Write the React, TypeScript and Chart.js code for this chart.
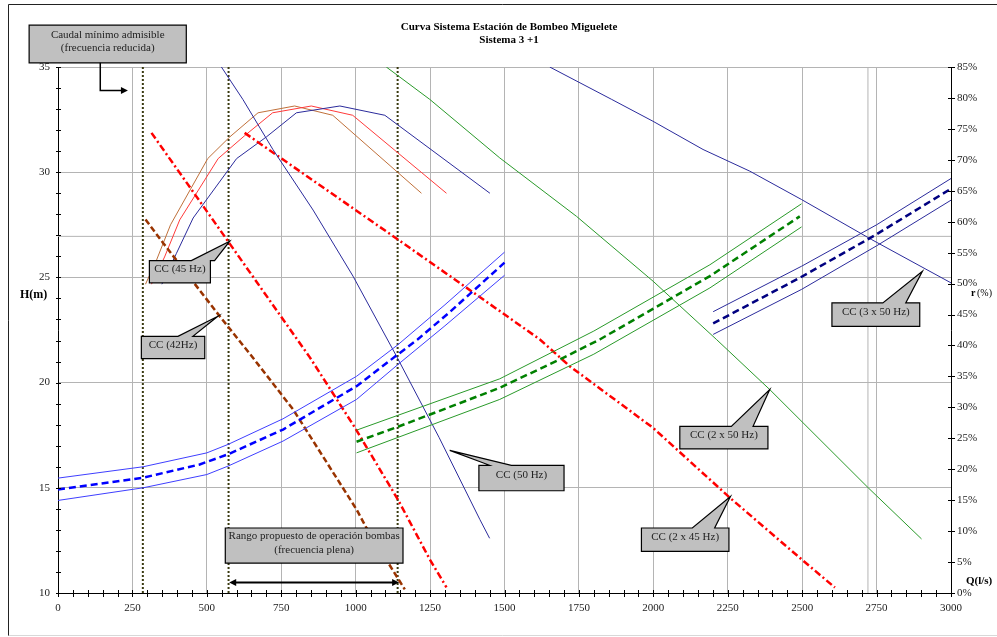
import React, { useEffect, useRef } from 'react';
import { Chart, registerables } from 'chart.js';
Chart.register(...registerables);

// ---------- DATA ----------
// Pump head curves H(m) vs Q(l/s)
const pump50Q = [549, 621, 722, 857, 991, 1137, 1280, 1417, 1450];
const pump50H = [35, 33.46, 31.08, 28.2, 25.06, 21.26, 17.4, 13.5, 12.6];
const pump45Q = [314, 571, 846, 997, 1142, 1249, 1305];
const pump45H = [31.87, 26.72, 21.2, 17.87, 14.44, 11.6, 10.27];
const pump42Q = [294, 353, 543, 655, 790, 1003, 1036, 1165];
const pump42H = [27.75, 26.64, 23.16, 21.18, 18.72, 13.97, 13.1, 10.17];
const pump2x50Q = [1103, 1249, 1484, 1742, 1999, 2212, 2391, 2722, 2901];
const pump2x50H = [35, 33.46, 30.68, 27.9, 24.82, 22.05, 19.67, 15.0, 12.57];
const pump2x45Q = [627, 1142, 1484, 1619, 1719, 1999, 2257, 2498, 2610];
const pump2x45H = [31.87, 26.8, 23.4, 22.05, 20.78, 17.85, 14.53, 11.6, 10.26];
const pump3x50Q = [1652, 1860, 1999, 2167, 2324, 2498, 2733, 3000];
const pump3x50H = [35, 33.46, 32.42, 31.08, 30.05, 28.7, 26.8, 24.74];

// System curves (1, 2 and 3 pumps) with upper / lower bands
const sys1Q = [0, 286, 476, 571, 756, 1003, 1142, 1208, 1316, 1500];
const sys1H = [14.92, 15.48, 16.11, 16.59, 17.77, 19.83, 21.34, 22.05, 23.35, 25.7];
const sys1BandQ = [0, 286, 500, 571, 756, 1003, 1142, 1300, 1500];
const sys1UpH = [15.46, 16.0, 16.66, 17.06, 18.28, 20.3, 21.8, 23.7, 26.2];
const sys1LoH = [14.4, 15.0, 15.63, 16.03, 17.22, 19.2, 20.86, 22.7, 25.1];
const sys2Q = [1003, 1142, 1484, 1697, 1820, 2190, 2492];
const sys2H = [17.19, 17.9, 19.75, 21.18, 22.05, 25.06, 27.9];
const sys2BandQ = [1003, 1484, 1800, 2190, 2498];
const sys2UpH = [17.74, 20.18, 22.45, 25.6, 28.5];
const sys2LoH = [16.66, 19.2, 21.35, 24.5, 27.4];
const sys3Q = [2201, 2492, 2744, 2996];
const sys3H = [22.81, 24.98, 27.0, 29.18];
const sys3BandQ = [2201, 2498, 2750, 3000];
const sys3UpH = [23.37, 25.53, 27.5, 29.7];
const sys3LoH = [22.29, 24.43, 26.5, 28.67];

// Efficiency curves (%), right axis
const eff50Q = [349, 398, 454, 600, 700, 801, 947, 1098, 1451];
const eff50E = [49.9, 54.9, 60.6, 70.2, 73.7, 77.6, 78.7, 77.2, 64.6];
const eff45Q = [314, 358, 409, 538, 627, 721, 851, 990, 1305];
const eff45E = [49.9, 54.3, 60.3, 70.2, 73.9, 77.6, 78.7, 77.2, 64.6];
const eff42Q = [294, 331, 378, 503, 577, 672, 795, 923, 1221];
const eff42E = [49.9, 53.8, 59.5, 70.2, 73.7, 77.6, 78.7, 77.2, 64.6];

// Reference vertical lines (Q, l/s)
const refLinesQ = [285, 573, 1141];
// Extra grid lines present in the reference
const extraGridQ = [2721];
const extraGridH = [26.95];

// Axis ranges / ticks
const xMin = 0, xMax = 3000, xMajor = 250, xMinor = 50;
const hMin = 10, hMax = 35, hMajor = 5, hMinor = 1;
const eMin = 0, eMax = 85, eStep = 5;

const titleLines = ['Curva Sistema Estación de Bombeo Miguelete', 'Sistema 3 +1'];

// Callout labels (texts)
const calloutTexts = [
  ['CC (45 Hz)'],
  ['CC (42Hz)'],
  ['CC (50 Hz)'],
  ['CC (2 x 45 Hz)'],
  ['CC (2 x 50 Hz)'],
  ['CC (3 x 50 Hz)'],
];
const noteCaudal = ['Caudal mínimo admisible', '(frecuencia reducida)'];
const noteRango = ['Rango propuesto de operación bombas', '(frecuencia plena)'];

// Layout of callouts in data units: box [q0,h0,q1,h1], pointer base [qa,qb], tip [q,h]
const calloutLayout = [
  { box: [307, 25.8, 512, 24.74], base: [448, 526], tip: [577, 26.72] },
  { box: [280, 22.2, 493, 21.14], base: [403, 453], tip: [537, 23.15] },
  { box: [1414, 16.07, 1700, 14.86], base: [1450, 1523], tip: [1316, 16.78] },
  { box: [1960, 13.09, 2254, 11.98], base: [2131, 2206], tip: [2259, 14.59] },
  { box: [2089, 17.92, 2385, 16.85], base: [2262, 2335], tip: [2391, 19.67] },
  { box: [2600, 23.79, 2895, 22.67], base: [2771, 2848], tip: [2904, 25.29] },
];
const caudalLayout = { box: [-97, 36.99, 431, 35.2], arrow: [[142, 35.2], [142, 33.88], [235, 33.88]] };
const rangoLayout = { box: [562, 13.09, 1159, 11.42], arrowH: 10.5, arrowQ: [575, 1146] };

const SERIF = '"Liberation Serif", "DejaVu Serif", serif';

function pts(qs: number[], hs: number[]) {
  return qs.map((q, i) => ({ x: q, y: hs[i] }));
}

function ds(label: string, data: any[], color: string, width: number, dash: number[] = [], axis = 'y') {
  return {
    type: 'line',
    label,
    data,
    borderColor: color,
    backgroundColor: color,
    borderWidth: width,
    borderDash: dash,
    pointRadius: 0,
    fill: false,
    tension: 0,
    yAxisID: axis,
  };
}

const decorPlugin = {
  id: 'decor',
  beforeDraw(chart: any) {
    const { ctx, width, height } = chart;
    ctx.save();
    ctx.fillStyle = '#ffffff';
    ctx.fillRect(0, 0, width, height);
    ctx.restore();
  },
  afterDraw(chart: any) {
    const { ctx, chartArea } = chart;
    const xs = chart.scales.x, ys = chart.scales.y, es = chart.scales.y2;
    const X = (v: number) => xs.getPixelForValue(v);
    const Y = (v: number) => ys.getPixelForValue(v);
    ctx.save();
    // outer border
    ctx.strokeStyle = '#222';
    ctx.lineWidth = 1;
    ctx.beginPath();
    ctx.moveTo(8.5, 636); ctx.lineTo(8.5, 4.5); ctx.lineTo(997, 4.5);
    ctx.stroke();
    ctx.strokeStyle = '#d8d8d8';
    ctx.beginPath();
    ctx.moveTo(8.5, 635.5); ctx.lineTo(997, 635.5);
    ctx.stroke();

    // minor/major tick marks crossing the axes
    ctx.strokeStyle = '#000';
    ctx.lineWidth = 1;
    ctx.beginPath();
    for (let q = xMin; q <= xMax; q += xMinor) {
      const px = Math.round(X(q)) + 0.5;
      ctx.moveTo(px, chartArea.bottom - 3); ctx.lineTo(px, chartArea.bottom + 4);
    }
    for (let h = hMin; h <= hMax; h += hMinor) {
      const py = Math.round(Y(h)) + 0.5;
      ctx.moveTo(chartArea.left - 2, py); ctx.lineTo(chartArea.left + 3, py);
    }
    for (let e = eMin; e <= eMax; e += eStep) {
      const py = Math.round(es.getPixelForValue(e)) + 0.5;
      ctx.moveTo(chartArea.right - 3, py); ctx.lineTo(chartArea.right + 4, py);
    }
    ctx.stroke();

    // title
    ctx.fillStyle = '#000';
    ctx.font = 'bold 11px ' + SERIF;
    ctx.textAlign = 'center';
    ctx.textBaseline = 'middle';
    ctx.fillText(titleLines[0], 509, 27);
    ctx.fillText(titleLines[1], 509, 40);

    // axis titles
    ctx.font = 'bold 12px ' + SERIF;
    ctx.textAlign = 'left';
    ctx.fillText('H(m)', 20, 295);
    ctx.font = 'bold 11px ' + SERIF;
    ctx.fillText('Q(l/s)', 966, 581);
    ctx.font = 'bold 10px ' + SERIF;
    ctx.fillText('r', 971, 293);
    ctx.font = '10px ' + SERIF;
    ctx.fillText('(%)', 977, 293);

    // callouts
    const drawBoxText = (lines: string[], x0: number, y0: number, x1: number, y1: number) => {
      ctx.fillStyle = '#222';
      ctx.font = '11px ' + SERIF;
      ctx.textAlign = 'center';
      ctx.textBaseline = 'middle';
      const lh = 13.5;
      const cy = (y0 + y1) / 2 - 2.5 - ((lines.length - 1) * lh) / 2;
      lines.forEach((t, i) => ctx.fillText(t, (x0 + x1) / 2, cy + i * lh));
    };
    const boxPath = (x0: number, y0: number, x1: number, y1: number, ptr?: any) => {
      ctx.beginPath();
      ctx.moveTo(x0, y0);
      if (ptr) {
        ctx.lineTo(ptr.a, y0);
        ctx.lineTo(ptr.tx, ptr.ty);
        ctx.lineTo(ptr.b, y0);
      }
      ctx.lineTo(x1, y0);
      ctx.lineTo(x1, y1);
      ctx.lineTo(x0, y1);
      ctx.closePath();
      ctx.fillStyle = '#c0c0c0';
      ctx.fill();
      ctx.strokeStyle = '#000';
      ctx.lineWidth = 1.2;
      ctx.stroke();
    };
    calloutLayout.forEach((c, i) => {
      const x0 = X(c.box[0]), y0 = Y(c.box[1]), x1 = X(c.box[2]), y1 = Y(c.box[3]);
      boxPath(x0, y0, x1, y1, { a: X(c.base[0]), b: X(c.base[1]), tx: X(c.tip[0]), ty: Y(c.tip[1]) });
      drawBoxText(calloutTexts[i], x0, y0, x1, y1);
    });

    // arrowhead helper
    const head = (x: number, y: number, dir: number) => {
      ctx.beginPath();
      ctx.moveTo(x, y);
      ctx.lineTo(x - dir * 7, y - 3.5);
      ctx.lineTo(x - dir * 7, y + 3.5);
      ctx.closePath();
      ctx.fillStyle = '#000';
      ctx.fill();
    };

    // caudal minimo box + L arrow
    {
      const b = caudalLayout.box;
      const x0 = X(b[0]), y0 = Y(b[1]), x1 = X(b[2]), y1 = Y(b[3]);
      boxPath(x0, y0, x1, y1);
      drawBoxText(noteCaudal, x0, y0, x1, y1);
      const a = caudalLayout.arrow;
      ctx.strokeStyle = '#000';
      ctx.lineWidth = 1.5;
      ctx.beginPath();
      ctx.moveTo(X(a[0][0]), Y(a[0][1]));
      ctx.lineTo(X(a[1][0]), Y(a[1][1]));
      ctx.lineTo(X(a[2][0]) - 5, Y(a[2][1]));
      ctx.stroke();
      head(X(a[2][0]), Y(a[2][1]), 1);
    }
    // rango box + double arrow
    {
      const b = rangoLayout.box;
      const x0 = X(b[0]), y0 = Y(b[1]), x1 = X(b[2]), y1 = Y(b[3]);
      boxPath(x0, y0, x1, y1);
      drawBoxText(noteRango, x0, y0, x1, y1);
      const ay = Y(rangoLayout.arrowH);
      const ax0 = X(rangoLayout.arrowQ[0]), ax1 = X(rangoLayout.arrowQ[1]);
      ctx.strokeStyle = '#000';
      ctx.lineWidth = 2;
      ctx.beginPath();
      ctx.moveTo(ax0 + 5, ay); ctx.lineTo(ax1 - 5, ay);
      ctx.stroke();
      head(ax0, ay, -1);
      head(ax1, ay, 1);
    }
    ctx.restore();
  },
};

export default function App() {
  const ref = useRef<HTMLCanvasElement | null>(null);
  useEffect(() => {
    document.body.style.margin = '0';
    const canvas = ref.current!;
    const NAVY = '#000080', NAVY_T = '#2b2b9c';
    const BLUE = '#0000ff', BLUE_T = '#3f3fff';
    const GREEN = '#008000', GREEN_T = '#2a9a2a';
    const RED = '#ff0000', BROWN = '#993300';
    const DOT = '#3a3a10';
    const GRID = '#b4b4b4';
    const datasets: any[] = [
      // system curves
      ds('Sistema 1', pts(sys1Q, sys1H), BLUE, 2.5, [7, 4]),
      ds('Sistema 1 sup', pts(sys1BandQ, sys1UpH), BLUE_T, 1),
      ds('Sistema 1 inf', pts(sys1BandQ, sys1LoH), BLUE_T, 1),
      ds('Sistema 2', pts(sys2Q, sys2H), GREEN, 2.5, [7, 4]),
      ds('Sistema 2 sup', pts(sys2BandQ, sys2UpH), GREEN_T, 1),
      ds('Sistema 2 inf', pts(sys2BandQ, sys2LoH), GREEN_T, 1),
      ds('Sistema 3', pts(sys3Q, sys3H), NAVY, 2.5, [7, 4]),
      ds('Sistema 3 sup', pts(sys3BandQ, sys3UpH), NAVY_T, 1),
      ds('Sistema 3 inf', pts(sys3BandQ, sys3LoH), NAVY_T, 1),
      // pump curves
      ds('CC (50 Hz)', pts(pump50Q, pump50H), NAVY_T, 1),
      ds('CC (45 Hz)', pts(pump45Q, pump45H), RED, 2.5, [7, 3, 2, 3]),
      ds('CC (42Hz)', pts(pump42Q, pump42H), BROWN, 2.5, [6, 3]),
      ds('CC (2 x 50 Hz)', pts(pump2x50Q, pump2x50H), GREEN_T, 1),
      ds('CC (2 x 45 Hz)', pts(pump2x45Q, pump2x45H), RED, 2.5, [7, 3, 2, 3]),
      ds('CC (3 x 50 Hz)', pts(pump3x50Q, pump3x50H), NAVY_T, 1),
      // efficiencies
      ds('r 50 Hz', pts(eff50Q, eff50E), NAVY_T, 1, [], 'y2'),
      ds('r 45 Hz', pts(eff45Q, eff45E), '#ff3a3a', 1, [], 'y2'),
      ds('r 42 Hz', pts(eff42Q, eff42E), '#c0703a', 1, [], 'y2'),
      // reference vertical lines
      ...refLinesQ.map((q) => ds('ref ' + q, [{ x: q, y: hMin }, { x: q, y: hMax }], DOT, 2, [2, 2])),
      // extra grid lines (drawn beneath)
      ...extraGridQ.map((q) => ds('g ' + q, [{ x: q, y: hMin }, { x: q, y: hMax }], GRID, 1)),
      ...extraGridH.map((h) => ds('g ' + h, [{ x: xMin, y: h }, { x: xMax, y: h }], GRID, 1)),
    ];
    const tickFont = { family: SERIF, size: 11 };
    const chart = new Chart(canvas, {
      type: 'line',
      data: { datasets },
      plugins: [decorPlugin],
      options: {
        animation: false,
        responsive: false,
        maintainAspectRatio: false,
        layout: { padding: { top: 67, left: 0, right: 0, bottom: 0 } },
        plugins: { legend: { display: false }, tooltip: { enabled: false }, title: { display: false } },
        scales: {
          x: {
            type: 'linear',
            min: xMin,
            max: xMax,
            position: 'bottom',
            afterFit: (s: any) => { s.height = 44; },
            ticks: { stepSize: xMajor, color: '#222', font: tickFont, padding: 9, maxRotation: 0, autoSkip: false, callback: (v: any) => String(v) },
            grid: { color: GRID, lineWidth: 1, drawTicks: false },
            border: { color: '#000', width: 1 },
          },
          y: {
            type: 'linear',
            min: hMin,
            max: hMax,
            position: 'left',
            afterFit: (s: any) => { s.width = 58; },
            ticks: { stepSize: hMajor, color: '#222', font: tickFont, padding: 8, callback: (v: any) => String(v) },
            grid: { color: GRID, lineWidth: 1, drawTicks: false },
            border: { color: '#000', width: 1 },
          },
          y2: {
            type: 'linear',
            min: eMin,
            max: eMax,
            position: 'right',
            afterFit: (s: any) => { s.width = 46; },
            ticks: { stepSize: eStep, color: '#222', font: tickFont, padding: 6, callback: (v: any) => v + '%' },
            grid: { drawOnChartArea: false, drawTicks: false },
            border: { color: '#000', width: 1 },
          },
        },
      } as any,
    });
    return () => chart.destroy();
  }, []);
  return <canvas ref={ref} width={997} height={637} style={{ display: 'block', width: 997, height: 637 }} />;
}
